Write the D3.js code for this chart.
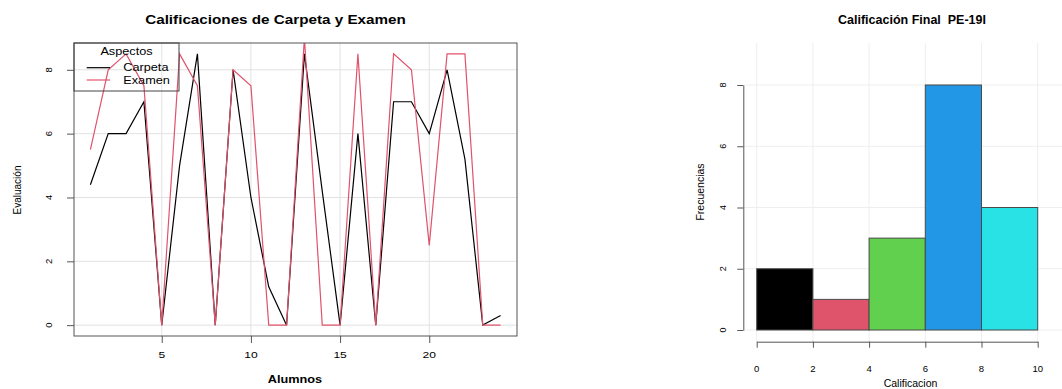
<!DOCTYPE html>
<html>
<head>
<meta charset="utf-8">
<script src="https://cdn.jsdelivr.net/npm/d3@7"></script>
<style>
  html, body { margin: 0; padding: 0; background: #fff; }
  svg { display: block; font-family: "Liberation Sans", Arial, sans-serif; }
  text { white-space: pre; }
</style>
</head>
<body>
<svg id="chart" width="1062" height="389"></svg>
<script>
// Grades per student: folder (Carpeta) and exam (Examen)
const alumnos = [1, 2, 3, 4, 5, 6, 7, 8, 9, 10, 11, 12, 13, 14, 15, 16, 17, 18, 19, 20, 21, 22, 23, 24];
const carpeta = [4.4, 6, 6, 7, 0, 5, 8.5, 0, 8, 4, 1.2, 0, 8.5, 4.2, 0, 6, 0, 7, 7, 6, 8, 5.2, 0, 0.3];
const examen  = [5.5, 8, 8.5, 7.5, 0, 8.5, 7.5, 0, 8, 7.5, 0, 0, 9, 0, 0, 8.5, 0, 8.5, 8, 2.5, 8.5, 8.5, 0, 0];
const seriesNames = ["Carpeta", "Examen"];
const seriesColors = ["#000000", "#DF536B"];
const lineXTicks = [5, 10, 15, 20];
const lineYTicks = [0, 2, 4, 6, 8];

// Histogram of final grades
const breaks = [0, 2, 4, 6, 8, 10];
const frecuencias = [2, 1, 3, 8, 4];
const binColors = ["#000000", "#DF536B", "#61D04F", "#2297E6", "#28E2E5"];
const histYTicks = [0, 2, 4, 6, 8];
const histXTicks = [0, 2, 4, 6, 8, 10];

const svg = d3.select("#chart");
const SX = 1.27; // horizontal text stretch of the left panel

function label(g, x, y, str, o = {}) {
  const wrap = g.append("g").attr("transform", `translate(${x},${y}) scale(${o.sx || 1},1)` + (o.rot ? ` rotate(${o.rot})` : ""));
  wrap.append("text")
    .attr("text-anchor", o.anchor || "middle")
    .attr("font-size", o.size || 10)
    .attr("font-weight", o.bold ? "bold" : "normal")
    .attr("fill", o.fill || "#000")
    .text(str);
  return wrap;
}

// ---------- Left panel: line chart ----------
const L = { left: 74, right: 517, top: 43, bottom: 336 };
const x = d3.scaleLinear().domain([0.08, 24.92]).range([L.left, L.right]);
const y = d3.scaleLinear().domain([-0.34, 8.84]).range([L.bottom, L.top]);

const left = svg.append("g");

// grid
left.append("g").selectAll("line.v").data(lineXTicks).join("line")
  .attr("x1", d => x(d)).attr("x2", d => x(d))
  .attr("y1", L.top).attr("y2", L.bottom)
  .attr("stroke", "#e2e2e2").attr("stroke-width", 1);
left.append("g").selectAll("line.h").data(lineYTicks).join("line")
  .attr("x1", L.left).attr("x2", L.right)
  .attr("y1", d => y(d)).attr("y2", d => y(d))
  .attr("stroke", "#e2e2e2").attr("stroke-width", 1);

// clip to plot region
svg.append("defs").append("clipPath").attr("id", "plotClip")
  .append("rect").attr("x", L.left).attr("y", L.top)
  .attr("width", L.right - L.left).attr("height", L.bottom - L.top);

const line = d3.line().x((d, i) => x(alumnos[i])).y(d => y(d));
const lines = left.append("g").attr("clip-path", "url(#plotClip)");
[carpeta, examen].forEach((s, k) => {
  lines.append("path").datum(s)
    .attr("d", line)
    .attr("fill", "none")
    .attr("stroke", seriesColors[k])
    .attr("stroke-width", 1.2)
    .attr("stroke-linejoin", "miter");
});

// box
left.append("rect").attr("x", L.left).attr("y", L.top)
  .attr("width", L.right - L.left).attr("height", L.bottom - L.top)
  .attr("fill", "none").attr("stroke", "#555").attr("stroke-width", 1);

// axes
const xAxis = left.append("g").attr("transform", `translate(0,${L.bottom})`)
  .call(d3.axisBottom(x).tickValues(lineXTicks).tickSize(7).tickFormat(""));
xAxis.select(".domain").remove();
xAxis.selectAll("line").attr("stroke", "#555");
lineXTicks.forEach(t => label(left, x(t), 357.5, String(t), { sx: SX, size: 9.5 }));

const yAxis = left.append("g").attr("transform", `translate(${L.left},0)`)
  .call(d3.axisLeft(y).tickValues(lineYTicks).tickSize(7).tickFormat(""));
yAxis.select(".domain").remove();
yAxis.selectAll("line").attr("stroke", "#555");
lineYTicks.forEach(t => label(left, 51.5, y(t), String(t), { rot: -90, size: 9.5 }));

// titles
label(left, 275.5, 24, "Calificaciones de Carpeta y Examen", { sx: SX, size: 12, bold: true });
label(left, 295, 383, "Alumnos", { sx: SX, size: 10, bold: true });
label(left, 21, 190, "Evaluación", { rot: -90, size: 10 });

// legend
const lg = left.append("g");
lg.append("rect").attr("x", L.left).attr("y", L.top).attr("width", 105).attr("height", 48)
  .attr("fill", "none").attr("stroke", "#444").attr("stroke-width", 1);
label(lg, 126.5, 55, "Aspectos", { sx: SX, size: 10 });
seriesNames.forEach((n, k) => {
  const yy = 67.7 + k * 12.3;
  lg.append("line").attr("x1", 86.7).attr("x2", 110).attr("y1", yy).attr("y2", yy)
    .attr("stroke", seriesColors[k]).attr("stroke-width", 1.2);
  label(lg, 123.3, yy + 3.6, n, { sx: SX, size: 10, anchor: "start" });
});

// ---------- Right panel: histogram ----------
const H = { left: 744.3, right: 1062, top: 43, bottom: 341.7 };
const hx = d3.scaleLinear().domain([0, 10]).range([756.7, 1037.7]);
const hy = d3.scaleLinear().domain([0, 8]).range([330, 85]);

const right = svg.append("g");

right.append("g").selectAll("line").data(histXTicks).join("line")
  .attr("x1", d => hx(d)).attr("x2", d => hx(d))
  .attr("y1", H.top).attr("y2", H.bottom)
  .attr("stroke", "#eeeeee").attr("stroke-width", 1);
right.append("g").selectAll("line").data(histYTicks).join("line")
  .attr("x1", H.left).attr("x2", H.right)
  .attr("y1", d => hy(d)).attr("y2", d => hy(d))
  .attr("stroke", "#eeeeee").attr("stroke-width", 1);

right.append("g").selectAll("rect").data(frecuencias).join("rect")
  .attr("x", (d, i) => hx(breaks[i]))
  .attr("width", (d, i) => hx(breaks[i + 1]) - hx(breaks[i]))
  .attr("y", d => hy(d))
  .attr("height", d => hy(0) - hy(d))
  .attr("fill", (d, i) => binColors[i])
  .attr("stroke", "#4a4a4a").attr("stroke-width", 1);

const hxAxis = right.append("g").attr("transform", `translate(0,${H.bottom})`)
  .call(d3.axisBottom(hx).tickValues(histXTicks).tickSize(6).tickSizeOuter(0).tickFormat(""));
hxAxis.select(".domain").attr("stroke", "#555");
hxAxis.selectAll("line").attr("stroke", "#555");
histXTicks.forEach(t => label(right, hx(t), 371.5, String(t), { size: 9.5 }));

const hyAxis = right.append("g").attr("transform", `translate(${H.left - 1},0)`)
  .call(d3.axisLeft(hy).tickValues(histYTicks).tickSize(6).tickSizeOuter(0).tickFormat(""));
hyAxis.select(".domain").attr("stroke", "#555");
hyAxis.selectAll("line").attr("stroke", "#555");
histYTicks.forEach(t => label(right, 725.5, hy(t), String(t), { rot: -90, size: 9 }));

label(right, 912, 24, "Calificación Final  PE-19I", { size: 12.5, bold: true });
label(right, 910.5, 387, "Calificacion", { size: 10.5 });
label(right, 704, 192, "Frecuencias", { rot: -90, size: 10.5 });
</script>
</body>
</html>
